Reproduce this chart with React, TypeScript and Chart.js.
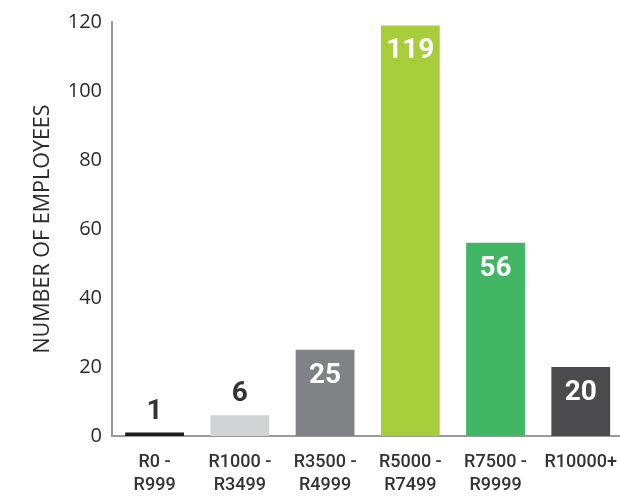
import React, { useEffect, useRef } from "react";
import { Chart, registerables } from "chart.js";

Chart.register(...registerables);

const categories: string[][] = [
  ["R0 -", "R999"],
  ["R1000 -", "R3499"],
  ["R3500 -", "R4999"],
  ["R5000 -", "R7499"],
  ["R7500 -", "R9999"],
  ["R10000+"],
];
const employees: number[] = [1, 6, 25, 119, 56, 20];
const barColors: string[] = ["#1d1d1b", "#d1d3d4", "#808285", "#a8cd3a", "#41b766", "#4b4b4d"];
const labelInside: boolean[] = [false, false, true, true, true, true];
const yTicks = { min: 0, max: 120, step: 20 };
const yTitle = "NUMBER OF EMPLOYEES";

const valueLabelPlugin = {
  id: "valueLabels",
  afterDatasetsDraw(chart: any) {
    const ctx = chart.ctx;
    const meta = chart.getDatasetMeta(0);
    ctx.save();
    ctx.font = "bold 28px Roboto";
    ctx.textAlign = "center";
    ctx.textBaseline = "middle";
    meta.data.forEach((bar: any, i: number) => {
      const v = employees[i];
      if (labelInside[i]) {
        ctx.fillStyle = "#ffffff";
        ctx.fillText(String(v), bar.x, bar.y + 26);
      } else {
        ctx.fillStyle = "#333333";
        ctx.fillText(String(v), bar.x, bar.y - 21);
      }
    });
    ctx.restore();
  },
};

export default function App() {
  const ref = useRef<HTMLCanvasElement | null>(null);
  useEffect(() => {
    if (!ref.current) return;
    const chart = new Chart(ref.current, {
      type: "bar",
      data: {
        labels: categories,
        datasets: [
          {
            data: employees,
            backgroundColor: barColors,
            borderWidth: 0,
            categoryPercentage: 1,
            barPercentage: 0.69,
          },
        ],
      },
      options: {
        responsive: false,
        animation: false,
        layout: { padding: { top: 22, bottom: 0, left: 0, right: 0 } },
        plugins: { legend: { display: false }, tooltip: { enabled: false } },
        scales: {
          x: {
            grid: { display: false, drawTicks: false },
            border: { display: true, color: "#9a9a9a", width: 2 },
            ticks: {
              color: "#333333",
              padding: 15,
              maxRotation: 0,
              autoSkip: false,
              font: { family: "Roboto", size: 18, weight: "500", lineHeight: 1.28 },
            },
            afterFit: (scale: any) => {
              scale.height = 63;
            },
          },
          y: {
            min: yTicks.min,
            max: yTicks.max,
            grid: { display: false, drawTicks: false },
            border: { display: true, color: "#9a9a9a", width: 2 },
            ticks: {
              stepSize: yTicks.step,
              color: "#2b2b2b",
              padding: 10,
              font: { family: "Open Sans", size: 20 },
            },
            title: {
              display: true,
              text: yTitle,
              color: "#2b2b2b",
              font: { family: "Open Sans", size: 21.5, lineHeight: 1.2 },
              padding: { top: 30, bottom: 0 },
            },
            afterFit: (scale: any) => {
              scale.width = 112;
            },
          },
        },
      },
      plugins: [valueLabelPlugin],
    });
    return () => chart.destroy();
  }, []);
  return (
    <div style={{ position: "absolute", left: 0, top: 0, width: 620, height: 499, overflow: "hidden", background: "#fff" }}>
      <canvas ref={ref} width={632} height={499} style={{ width: 632, height: 499, display: "block" }} />
    </div>
  );
}
